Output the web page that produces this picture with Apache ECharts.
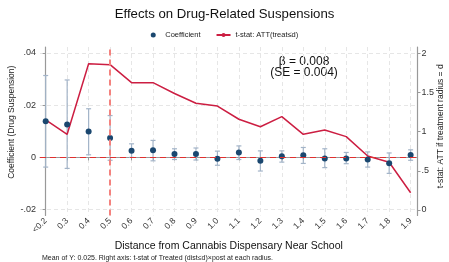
<!DOCTYPE html>
<html>
<head>
<meta charset="utf-8">
<script src="https://cdn.jsdelivr.net/npm/echarts@6/dist/echarts.min.js"></script>
<style>
  html, body { margin: 0; padding: 0; background: #fff; }
  #echarts { width: 449px; height: 262px; }
</style>
</head>
<body>
<div id="echarts"></div>
<script>
// radius categories (x axis)
var radius = ['<0.2', '0.3', '0.4', '0.5', '0.6', '0.7', '0.8', '0.9', '1.0', '1.1', '1.2', '1.3', '1.4', '1.5', '1.6', '1.7', '1.8', '1.9'];
// coefficient and 95% CI (left axis)
var coef   = [0.0138, 0.0126, 0.0099, 0.0074, 0.0025, 0.0027, 0.0013, 0.0013, -0.0005, 0.0019, -0.0013, 0.0004, 0.0008, -0.0004, -0.0004, -0.0008, -0.0022, 0.0009];
var ciLow  = [-0.0037, -0.0042, 0.0010, -0.0011, 0.0000, -0.0013, -0.0008, -0.0010, -0.0030, -0.0008, -0.0052, -0.0018, -0.0023, -0.0039, -0.0024, -0.0037, -0.0061, -0.0011];
var ciHigh = [0.0313, 0.0296, 0.0186, 0.0160, 0.0052, 0.0065, 0.0033, 0.0036, 0.0024, 0.0044, 0.0025, 0.0025, 0.0038, 0.0033, 0.0019, 0.0021, 0.0017, 0.0029];
// t-stat of ATT(treat<=d) (right axis)
var tstat  = [1.149, 0.966, 1.867, 1.855, 1.625, 1.625, 1.487, 1.362, 1.327, 1.158, 1.063, 1.191, 0.966, 1.021, 0.936, 0.689, 0.609, 0.221];
// tick labels
var leftTicks  = [-0.02, 0, 0.02, 0.04];
var leftLabels = ['-.02', '0', '.02', '.04'];
var rightTicks  = [0, 0.5, 1, 1.5, 2];
var rightLabels = ['0', '.5', '1', '1.5', '2'];

var font = "'Liberation Sans', Arial, sans-serif";
var idx = radius.map(function (r, i) { return i; });

var myChart = echarts.init(document.getElementById('echarts'), null, { renderer: 'canvas' });

var option = {
  backgroundColor: '#fff',
  animation: false,
  textStyle: { fontFamily: font },
  title: {
    text: 'Effects on Drug-Related Suspensions',
    left: 'center',
    top: 3,
    textStyle: { fontSize: 13.2, fontWeight: 'normal', color: '#111', fontFamily: font }
  },
  legend: {
    top: 26,
    left: 'center',
    itemWidth: 14,
    itemHeight: 5,
    itemGap: 15,
    textStyle: { fontSize: 7.5, color: '#222', fontFamily: font },
    data: [
      { name: 'Coefficient', icon: 'circle' },
      { name: 't-stat: ATT(treat≤d)' }
    ]
  },
  grid: {
    left: 40,
    right: 31.5,
    top: 47,
    bottom: 46.5,
    outerBoundsMode: 'none'
  },
  xAxis: {
    type: 'value',
    min: -0.265,
    max: 17.32,
    name: 'Distance from Cannabis Dispensary Near School',
    nameLocation: 'middle',
    nameGap: 25,
    nameMoveOverlap: false,
    nameTextStyle: { fontSize: 10.5, color: '#111', fontFamily: font },
    axisLine: { lineStyle: { color: '#999', width: 1.2 } },
    axisTick: { customValues: idx, length: 3, lineStyle: { color: '#999' } },
    axisLabel: {
      customValues: idx,
      rotate: 45,
      fontSize: 8.5,
      color: '#333',
      margin: 4,
      formatter: function (v) { return radius[Math.round(v)]; }
    },
    splitLine: { show: true, lineStyle: { color: '#e6e6e6', type: [4, 3] } }
  },
  yAxis: [{
    type: 'value',
    min: -0.0222,
    max: 0.0422,
    name: 'Coefficient (Drug Suspension)',
    nameLocation: 'middle',
    nameGap: 24,
    nameMoveOverlap: false,
    nameTextStyle: { fontSize: 8.5, color: '#222', fontFamily: font, padding: [0, 0, 0, 18] },
    axisLine: { show: true, lineStyle: { color: '#999', width: 1.2 } },
    axisTick: { show: true, customValues: leftTicks, length: 3, lineStyle: { color: '#999' } },
    axisLabel: {
      customValues: leftTicks,
      fontSize: 9,
      color: '#333',
      margin: 4,
      formatter: function (v) { return leftLabels[leftTicks.indexOf(v)]; }
    },
    splitLine: { show: true, lineStyle: { color: '#e6e6e6', type: [4, 3] } }
  }, {
    type: 'value',
    min: -0.07,
    max: 2.08,
    position: 'right',
    name: 't-stat: ATT if treatment radius = d',
    nameLocation: 'middle',
    nameGap: 19,
    nameMoveOverlap: false,
    nameTextStyle: { fontSize: 8.5, color: '#222', fontFamily: font, padding: [0, 0, 0, 10] },
    axisLine: { show: true, lineStyle: { color: '#999', width: 1.2 } },
    axisTick: { show: true, customValues: rightTicks, length: 3, lineStyle: { color: '#999' } },
    axisLabel: {
      customValues: rightTicks,
      fontSize: 9,
      color: '#333',
      margin: 4,
      formatter: function (v) { return rightLabels[rightTicks.indexOf(v)]; }
    },
    splitLine: { show: false }
  }],
  graphic: [{
    type: 'text',
    x: 304,
    y: 62,
    style: {
      text: 'β = 0.008',
      align: 'center',
      verticalAlign: 'middle',
      font: "12px 'Liberation Sans', Arial, sans-serif",
      fill: '#111'
    }
  }, {
    type: 'text',
    x: 304,
    y: 73,
    style: {
      text: '(SE = 0.004)',
      align: 'center',
      verticalAlign: 'middle',
      font: "12px 'Liberation Sans', Arial, sans-serif",
      fill: '#111'
    }
  }, {
    type: 'text',
    x: 42,
    y: 258,
    style: {
      text: 'Mean of Y: 0.025. Right axis: t-stat of Treated (dist≤d)×post at each radius.',
      verticalAlign: 'middle',
      font: "7px 'Liberation Sans', Arial, sans-serif",
      fill: '#222'
    }
  }],
  series: [{
    // 95% CI bars
    name: 'CI',
    type: 'custom',
    yAxisIndex: 0,
    silent: true,
    z: 2,
    data: idx.map(function (i) { return [i, ciLow[i], ciHigh[i]]; }),
    renderItem: function (params, api) {
      var x = api.value(0);
      var lo = api.coord([x, api.value(1)]);
      var hi = api.coord([x, api.value(2)]);
      var cap = 2.5;
      var st = { stroke: '#a3b4c8', lineWidth: 1.2 };
      return {
        type: 'group',
        children: [
          { type: 'line', shape: { x1: lo[0], y1: lo[1], x2: hi[0], y2: hi[1] }, style: st },
          { type: 'line', shape: { x1: lo[0] - cap, y1: lo[1], x2: lo[0] + cap, y2: lo[1] }, style: st },
          { type: 'line', shape: { x1: hi[0] - cap, y1: hi[1], x2: hi[0] + cap, y2: hi[1] }, style: st }
        ]
      };
    }
  }, {
    name: 'Coefficient',
    type: 'scatter',
    yAxisIndex: 0,
    symbolSize: 6,
    z: 4,
    itemStyle: { color: '#1a476f', opacity: 1 },
    data: idx.map(function (i) { return [i, coef[i]]; }),
    markLine: {
      silent: true,
      symbol: 'none',
      label: { show: false },
      data: [
        { yAxis: 0, lineStyle: { color: '#e0302f', width: 1.2, type: [6, 4] } },
        { xAxis: 3, lineStyle: { color: '#f4827e', width: 2, type: [6, 4] } }
      ]
    }
  }, {
    name: 't-stat: ATT(treat≤d)',
    type: 'line',
    yAxisIndex: 1,
    symbol: 'none',
    z: 3,
    lineStyle: { color: '#cc1e42', width: 1.5 },
    itemStyle: { color: '#cc1e42' },
    data: idx.map(function (i) { return [i, tstat[i]]; })
  }]
};

myChart.setOption(option);
</script>
</body>
</html>
